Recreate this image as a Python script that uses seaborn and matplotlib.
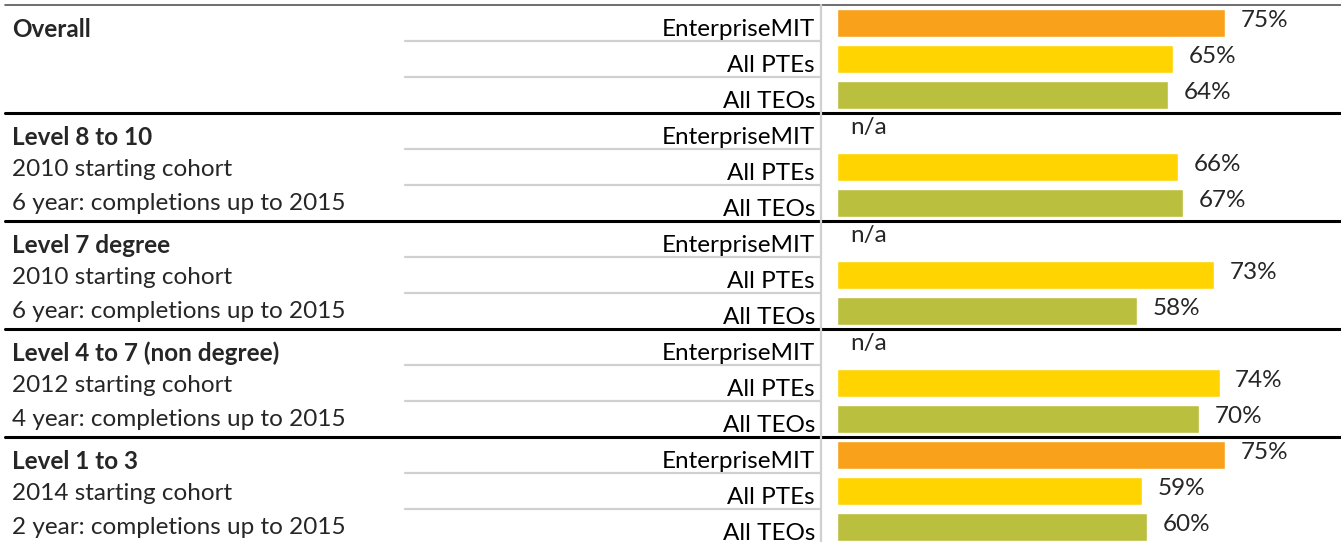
import matplotlib
matplotlib.use('Agg')
import matplotlib.pyplot as plt
import matplotlib.transforms as mtransforms
import numpy as np
import pandas as pd
import seaborn as sns

# completion rates by qualification level
groups = ['Overall', 'Level 8 to 10', 'Level 7 degree', 'Level 4 to 7 (non degree)', 'Level 1 to 3']
cohorts = ['', '2010 starting cohort', '2010 starting cohort', '2012 starting cohort', '2014 starting cohort']
periods = ['', '6 year: completions up to 2015', '6 year: completions up to 2015',
           '4 year: completions up to 2015', '2 year: completions up to 2015']
providers = ['EnterpriseMIT', 'All PTEs', 'All TEOs']
enterprise_mit = [75, np.nan, np.nan, np.nan, 75]
all_ptes = [65, 66, 73, 74, 59]
all_teos = [64, 67, 58, 70, 60]
colors = ['#F9A11B', '#FFD400', '#BBBF3E']

rows = []
for i, g in enumerate(groups):
    for p, vals in zip(providers, [enterprise_mit, all_ptes, all_teos]):
        rows.append({'row': g + ' | ' + p, 'group': g, 'provider': p, 'value': vals[i]})
df = pd.DataFrame(rows)
order = df['row'].tolist()

sns.set_style('white')
plt.rcParams['font.family'] = ['Lato', 'DejaVu Sans']

W, H = 1341, 542
fig = plt.figure(figsize=(W / 100, H / 100), dpi=100)
ax = fig.add_axes([837 / W, -3 / H, 504 / W, 540 / H])

sns.barplot(data=df, x='value', y='row', hue='provider', order=order,
            hue_order=providers, palette=colors, dodge=False, width=0.8,
            saturation=1, legend=False, ax=ax)
ax.set_xlim(0, 504 / 5.17)
ax.set_ylim(len(order) - 0.5, -0.5)
ax.axis('off')

fs = 17.5
tr = mtransforms.blended_transform_factory(fig.transFigure, ax.transData)

for k, r in df.iterrows():
    ax.text(815 / W, k + 0.17, r['provider'], transform=tr, ha='right', va='center',
            fontsize=fs, color='black')
    if np.isnan(r['value']):
        ax.text(2.5, k - 0.1, 'n/a', ha='left', va='center', fontsize=fs)
    else:
        ax.text(r['value'] + 3, k - 0.07, '%d%%' % r['value'], ha='left', va='center',
                fontsize=fs)

for i, g in enumerate(groups):
    base = i * 3
    ax.text(12 / W, base + 0.17, g, transform=tr, ha='left', va='center',
            fontsize=fs, fontweight='bold')
    ax.text(12 / W, base + 1.08, cohorts[i], transform=tr, ha='left', va='center', fontsize=fs)
    ax.text(12 / W, base + 2.0, periods[i], transform=tr, ha='left', va='center', fontsize=fs)
    # light rules between rows in the label column
    for j in (0.5, 1.5):
        ax.plot([405 / W, 820 / W], [base + j, base + j], transform=tr, color='#D0D0D0',
                lw=1.6, clip_on=False)
    if i > 0:
        ax.plot([5 / W, 1], [base - 0.5, base - 0.5], transform=tr, color='black',
                lw=2.2, clip_on=False)

ax.plot([5 / W, 1], [-0.5, -0.5], transform=tr, color='#555555', lw=1.2, clip_on=False)
ax.plot([821 / W, 821 / W], [-0.5, len(order) - 0.5], transform=tr, color='#D0D0D0',
        lw=1.6, clip_on=False)

fig.savefig('out.png', dpi=100)
